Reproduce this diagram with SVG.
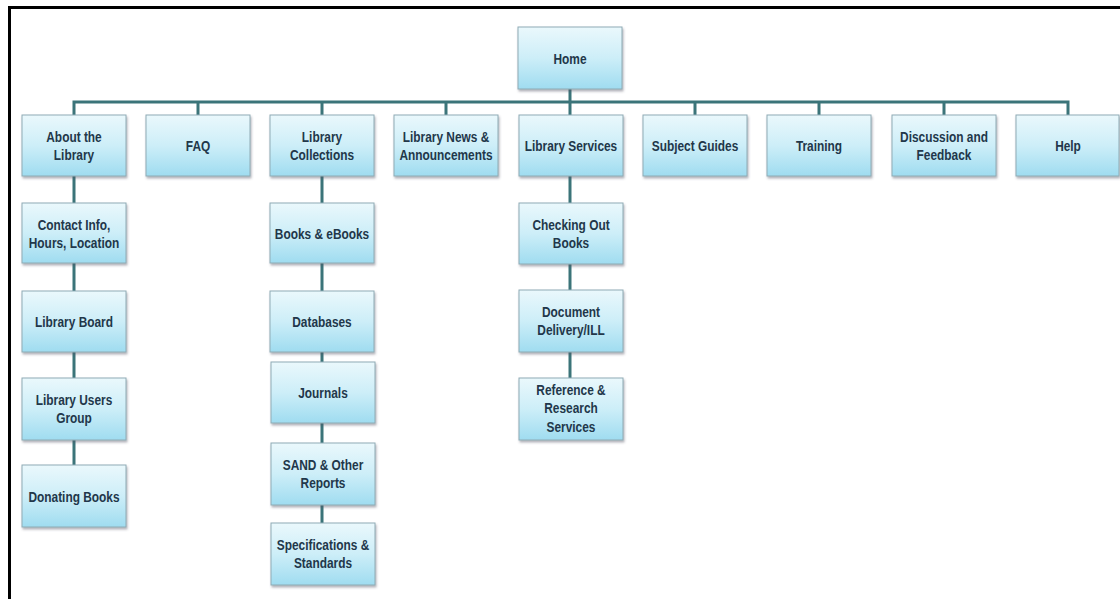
<svg xmlns="http://www.w3.org/2000/svg" width="1120" height="599" viewBox="0 0 1120 599">
<defs>
<linearGradient id="boxfill" x1="0" y1="0" x2="0" y2="1">
<stop offset="0" stop-color="#eaf8fc"/>
<stop offset="0.5" stop-color="#cdeef8"/>
<stop offset="1" stop-color="#9fdcf0"/>
</linearGradient>
<filter id="shadow" x="-10%" y="-10%" width="125%" height="130%">
<feDropShadow dx="1" dy="2" stdDeviation="1.2" flood-color="#556" flood-opacity="0.45"/>
</filter>
<style>
.box{fill:url(#boxfill);stroke:#8fabb5;stroke-width:1;filter:url(#shadow)}
.lbl{font-family:"Liberation Sans",Arial,sans-serif;font-size:14.6px;font-weight:bold;fill:#22374a;text-anchor:middle}
.conn{stroke:#3b7479;stroke-width:3;fill:none}
.frame{stroke:#000;stroke-width:3;fill:none}
</style>
</defs>
<rect x="0" y="0" width="1120" height="599" fill="#fff"/>
<path class="frame" d="M9.5 599 V7.5 H1120"/>

<g id="connectors">
<path class="conn" d="M570 89 V102"/>
<path class="conn" d="M74 115 V102 H1068 V115"/>
<path class="conn" d="M198 102 V115 M322 102 V115 M446 102 V115 M570 102 V115 M695 102 V115 M819 102 V115 M944 102 V115"/>
<path class="conn" d="M74 176 V465"/>
<path class="conn" d="M322 176 V523"/>
<path class="conn" d="M570 176 V378"/>
</g>

<g id="home"><rect class="box" x="518" y="27" width="104" height="62"/>
<text class="lbl" transform="translate(570 0) scale(0.815 1)" x="0" y="64">Home</text></g>

<g id="about"><rect class="box" x="22" y="115" width="104" height="61"/>
<text class="lbl" transform="translate(74 0) scale(0.815 1)" x="0" y="142">About the</text>
<text class="lbl" transform="translate(74 0) scale(0.815 1)" x="0" y="160">Library</text></g>

<g id="faq"><rect class="box" x="146" y="115" width="104" height="61"/>
<text class="lbl" transform="translate(198 0) scale(0.815 1)" x="0" y="151">FAQ</text></g>

<g id="collections"><rect class="box" x="270" y="115" width="104" height="61"/>
<text class="lbl" transform="translate(322 0) scale(0.815 1)" x="0" y="142">Library</text>
<text class="lbl" transform="translate(322 0) scale(0.815 1)" x="0" y="160">Collections</text></g>

<g id="news"><rect class="box" x="394" y="115" width="104" height="61"/>
<text class="lbl" transform="translate(446 0) scale(0.815 1)" x="0" y="142">Library News &amp;</text>
<text class="lbl" transform="translate(446 0) scale(0.815 1)" x="0" y="160">Announcements</text></g>

<g id="services"><rect class="box" x="519" y="115" width="104" height="61"/>
<text class="lbl" transform="translate(571 0) scale(0.815 1)" x="0" y="151">Library Services</text></g>

<g id="guides"><rect class="box" x="643" y="115" width="104" height="61"/>
<text class="lbl" transform="translate(695 0) scale(0.815 1)" x="0" y="151">Subject Guides</text></g>

<g id="training"><rect class="box" x="767" y="115" width="104" height="61"/>
<text class="lbl" transform="translate(819 0) scale(0.815 1)" x="0" y="151">Training</text></g>

<g id="discussion"><rect class="box" x="892" y="115" width="104" height="61"/>
<text class="lbl" transform="translate(944 0) scale(0.815 1)" x="0" y="142">Discussion and</text>
<text class="lbl" transform="translate(944 0) scale(0.815 1)" x="0" y="160">Feedback</text></g>

<g id="help"><rect class="box" x="1016" y="115" width="103" height="61"/>
<text class="lbl" transform="translate(1068 0) scale(0.815 1)" x="0" y="151">Help</text></g>

<g id="contact"><rect class="box" x="22" y="203" width="104" height="60"/>
<text class="lbl" transform="translate(74 0) scale(0.815 1)" x="0" y="230">Contact Info,</text>
<text class="lbl" transform="translate(74 0) scale(0.815 1)" x="0" y="248">Hours, Location</text></g>

<g id="board"><rect class="box" x="22" y="291" width="104" height="61"/>
<text class="lbl" transform="translate(74 0) scale(0.815 1)" x="0" y="327">Library Board</text></g>

<g id="usersgroup"><rect class="box" x="22" y="378" width="104" height="62"/>
<text class="lbl" transform="translate(74 0) scale(0.815 1)" x="0" y="405">Library Users</text>
<text class="lbl" transform="translate(74 0) scale(0.815 1)" x="0" y="423">Group</text></g>

<g id="donating"><rect class="box" x="22" y="465" width="104" height="62"/>
<text class="lbl" transform="translate(74 0) scale(0.815 1)" x="0" y="502">Donating Books</text></g>

<g id="books"><rect class="box" x="270" y="203" width="104" height="60"/>
<text class="lbl" transform="translate(322 0) scale(0.815 1)" x="0" y="239">Books &amp; eBooks</text></g>

<g id="databases"><rect class="box" x="270" y="291" width="104" height="61"/>
<text class="lbl" transform="translate(322 0) scale(0.815 1)" x="0" y="327">Databases</text></g>

<g id="journals"><rect class="box" x="271" y="362" width="104" height="61"/>
<text class="lbl" transform="translate(323 0) scale(0.815 1)" x="0" y="398">Journals</text></g>

<g id="sand"><rect class="box" x="271" y="443" width="104" height="62"/>
<text class="lbl" transform="translate(323 0) scale(0.815 1)" x="0" y="470">SAND &amp; Other</text>
<text class="lbl" transform="translate(323 0) scale(0.815 1)" x="0" y="488">Reports</text></g>

<g id="specs"><rect class="box" x="271" y="523" width="104" height="62"/>
<text class="lbl" transform="translate(323 0) scale(0.815 1)" x="0" y="550">Specifications &amp;</text>
<text class="lbl" transform="translate(323 0) scale(0.815 1)" x="0" y="568">Standards</text></g>

<g id="checking"><rect class="box" x="519" y="203" width="104" height="61"/>
<text class="lbl" transform="translate(571 0) scale(0.815 1)" x="0" y="230">Checking Out</text>
<text class="lbl" transform="translate(571 0) scale(0.815 1)" x="0" y="248">Books</text></g>

<g id="delivery"><rect class="box" x="519" y="290" width="104" height="62"/>
<text class="lbl" transform="translate(571 0) scale(0.815 1)" x="0" y="317">Document</text>
<text class="lbl" transform="translate(571 0) scale(0.815 1)" x="0" y="335">Delivery/ILL</text></g>

<g id="reference"><rect class="box" x="519" y="378" width="104" height="62"/>
<text class="lbl" transform="translate(571 0) scale(0.815 1)" x="0" y="395">Reference &amp;</text>
<text class="lbl" transform="translate(571 0) scale(0.815 1)" x="0" y="413">Research</text>
<text class="lbl" transform="translate(571 0) scale(0.815 1)" x="0" y="432">Services</text></g>
</svg>
